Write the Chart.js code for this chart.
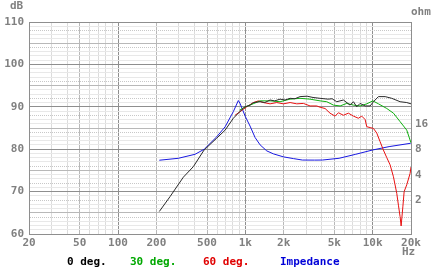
<!DOCTYPE html>
<html>
<head>
<meta charset="utf-8">
<script src="https://cdn.jsdelivr.net/npm/chart.js@4/dist/chart.umd.min.js"></script>
<style>
    html, body { margin: 0; padding: 0; background: #fff; }
    #caja { position: relative; width: 434px; height: 271px; overflow: hidden; }
    #grafico { position: absolute; left: 0; top: 0; }
    .texto { position: absolute; font: bold 11px "DejaVu Sans Mono", monospace; line-height: 12px; white-space: nowrap; }
</style>
</head>
<body>
<div id="caja">
    <canvas id="grafico" width="434" height="271"></canvas>
    <div class="texto" style="left:10px; top:0px; color:#808080;">dB</div>
    <div class="texto" style="left:411px; top:6px; color:#808080;">ohm</div>
    <div class="texto" style="left:402px; top:246px; color:#808080;">Hz</div>
    <div class="texto" style="left:67px; top:256px; color:#000;">0 deg.</div>
    <div class="texto" style="left:130px; top:256px; color:#00a800;">30 deg.</div>
    <div class="texto" style="left:203px; top:256px; color:#e00000;">60 deg.</div>
    <div class="texto" style="left:280px; top:256px; color:#0000d8;">Impedance</div>
</div>
<script>
// ------------------------------ Datos ------------------------------

// 0 deg. (dB)
const frecCero = [211, 256, 326, 391, 474, 596, 694, 805, 980, 1089, 1157, 1306, 1420, 1564, 1700, 1874, 2050, 2246, 2450, 2690, 3054, 3400, 3862, 4468, 4800, 5224, 5892, 6649, 7064, 7500, 7963, 8723, 9553, 10140, 11100, 12530, 14130, 16420, 18520, 20000];
const dbCero = [65.3, 68.8, 73.4, 75.9, 79.8, 82.6, 84.5, 87.3, 89.9, 90.4, 91.0, 91.2, 91.0, 91.6, 91.4, 91.8, 91.6, 92.0, 91.9, 92.4, 92.5, 92.2, 92.0, 91.8, 91.9, 91.2, 91.6, 90.4, 91.2, 90.0, 90.8, 90.2, 90.2, 91.2, 92.4, 92.4, 92.0, 91.2, 91.0, 90.7];

// 30 deg. (dB)
const frecTreinta = [900, 1000, 1089, 1306, 1564, 1874, 2246, 2690, 3223, 3862, 4360, 4920, 5549, 6262, 7064, 7963, 8990, 10040, 11100, 12910, 14560, 16420, 18520, 20000];
const dbTreinta = [89.2, 90.0, 90.4, 91.4, 91.4, 91.2, 91.8, 92.0, 91.8, 91.4, 91.2, 90.4, 90.2, 90.8, 90.4, 90.2, 90.7, 91.4, 90.7, 89.6, 88.5, 86.5, 84.5, 81.5];

// 60 deg. (dB)
const frecSesenta = [830, 1026, 1157, 1266, 1386, 1564, 1764, 1990, 2246, 2535, 2857, 3223, 3638, 3862, 4228, 4625, 5066, 5382, 5892, 6448, 7064, 7726, 8207, 8723, 8990, 9553, 10140, 10770, 11430, 12140, 12910, 13710, 14560, 15460, 15930, 16420, 16730, 17260, 17670, 18520, 19680, 20000];
const dbSesenta = [88.0, 90.0, 91.0, 91.4, 91.0, 90.7, 91.0, 90.7, 91.0, 90.7, 90.8, 90.2, 90.2, 89.9, 89.6, 88.5, 87.8, 88.6, 88.0, 88.5, 87.8, 87.3, 87.8, 87.0, 85.3, 85.1, 84.9, 83.8, 81.8, 79.8, 78.0, 76.3, 73.5, 69.6, 66.8, 64.1, 61.9, 66.4, 70.0, 71.6, 74.3, 75.8];

// Impedancia (ohm)
const frecImpedancia = [211, 298, 403, 476, 596, 694, 805, 881, 909, 1000, 1089, 1192, 1306, 1474, 1660, 1990, 2383, 2805, 3500, 4028, 5445, 7366, 9951, 13460, 19900];
const ohmImpedancia = [5.93, 6.25, 6.97, 8.0, 11.2, 14.7, 22.2, 30.0, 27.7, 19.4, 15.0, 11.0, 9.0, 7.64, 7.05, 6.5, 6.2, 5.96, 5.95, 5.96, 6.25, 6.97, 7.82, 8.58, 9.4];

// Ejes
const lineasX = [20, 30, 40, 50, 60, 70, 80, 90, 100, 200, 300, 400, 500, 600, 700, 800, 900, 1000, 2000, 3000, 4000, 5000, 6000, 7000, 8000, 9000, 10000, 20000];
const ticksX = [20, 50, 100, 200, 500, 1000, 2000, 5000, 10000, 20000];
const etiquetasX = ["20", "50", "100", "200", "500", "1k", "2k", "5k", "10k", "20k"];
const ticksOhm = [2, 4, 8, 16];

// ------------------------------ Gráfico ------------------------------

const fuenteEje = { family: "DejaVu Sans Mono", size: 11, weight: "bold" };
const grisTexto = "#808080";

function armarPuntos(frecs, valores) {
    return frecs.map((f, i) => ({ x: f, y: valores[i] }));
}

function colorLineaX(v) {
    const d = v / Math.pow(10, Math.floor(Math.log10(v) + 1e-9));
    if (Math.abs(d - 1) < 1e-6) return "#8e8e8e";
    if (Math.abs(d - 2) < 1e-6 || Math.abs(d - 5) < 1e-6) return "#b8b8b8";
    return "#dcdcdc";
}

function colorLineaY(v) {
    if (v % 10 === 0) return "#8e8e8e";
    if (v % 5 === 0) return "#b8b8b8";
    if (v % 4 === 0) return "#c8c8c8";
    return "#e8e8e8";
}

const lineaBase = { borderWidth: 1, pointRadius: 0, tension: 0, fill: false };

const ctx = document.getElementById("grafico").getContext("2d");

new Chart(ctx, {
    type: "line",
    data: {
        datasets: [
            { ...lineaBase, label: "0 deg.", data: armarPuntos(frecCero, dbCero), borderColor: "#2a2a2a", yAxisID: "y" },
            { ...lineaBase, label: "30 deg.", data: armarPuntos(frecTreinta, dbTreinta), borderColor: "#10b010", yAxisID: "y" },
            { ...lineaBase, label: "60 deg.", data: armarPuntos(frecSesenta, dbSesenta), borderColor: "#e81010", yAxisID: "y" },
            { ...lineaBase, label: "Impedance", data: armarPuntos(frecImpedancia, ohmImpedancia), borderColor: "#1818e0", yAxisID: "ohm" }
        ]
    },
    options: {
        responsive: false,
        animation: false,
        layout: { padding: { top: 22, left: 0, right: 0, bottom: 0 } },
        plugins: {
            legend: { display: false },
            tooltip: { enabled: false }
        },
        scales: {
            x: {
                type: "logarithmic",
                min: 20,
                max: 20000,
                afterBuildTicks: (eje) => { eje.ticks = lineasX.map(v => ({ value: v })); },
                afterFit: (eje) => { eje.height = 37; },
                ticks: {
                    autoSkip: false,
                    maxRotation: 0,
                    padding: 3,
                    color: grisTexto,
                    font: fuenteEje,
                    callback: (valor) => {
                        const i = ticksX.indexOf(valor);
                        return i >= 0 ? etiquetasX[i] : "";
                    }
                },
                grid: {
                    drawTicks: false,
                    lineWidth: 1,
                    color: (c) => c.tick ? colorLineaX(c.tick.value) : "#8e8e8e"
                },
                border: { display: true, color: "#8e8e8e" }
            },
            y: {
                type: "linear",
                position: "left",
                min: 60,
                max: 110,
                afterBuildTicks: (eje) => {
                    const lista = [];
                    for (let v = 60; v <= 110; v++) lista.push({ value: v });
                    eje.ticks = lista;
                },
                afterFit: (eje) => { eje.width = 29; },
                ticks: {
                    autoSkip: false,
                    padding: 5,
                    color: grisTexto,
                    font: fuenteEje,
                    callback: (valor) => valor % 10 === 0 ? String(valor) : ""
                },
                grid: {
                    drawTicks: false,
                    lineWidth: 1,
                    color: (c) => c.tick ? colorLineaY(c.tick.value) : "#8e8e8e"
                },
                border: {
                    display: true,
                    color: "#8e8e8e",
                    dash: (c) => (c.tick && c.tick.value % 4 === 0 && c.tick.value % 5 !== 0) ? [1, 1] : []
                }
            },
            ohm: {
                type: "logarithmic",
                position: "right",
                min: 0.8,
                max: 8 * Math.pow(10, 1.5),
                afterBuildTicks: (eje) => { eje.ticks = ticksOhm.map(v => ({ value: v })); },
                afterFit: (eje) => { eje.width = 23; },
                ticks: {
                    autoSkip: false,
                    padding: 4,
                    color: grisTexto,
                    font: fuenteEje,
                    callback: (valor) => String(valor)
                },
                grid: { display: false, drawTicks: false },
                border: { display: true, color: "#8e8e8e" }
            }
        }
    }
});
</script>
</body>
</html>
